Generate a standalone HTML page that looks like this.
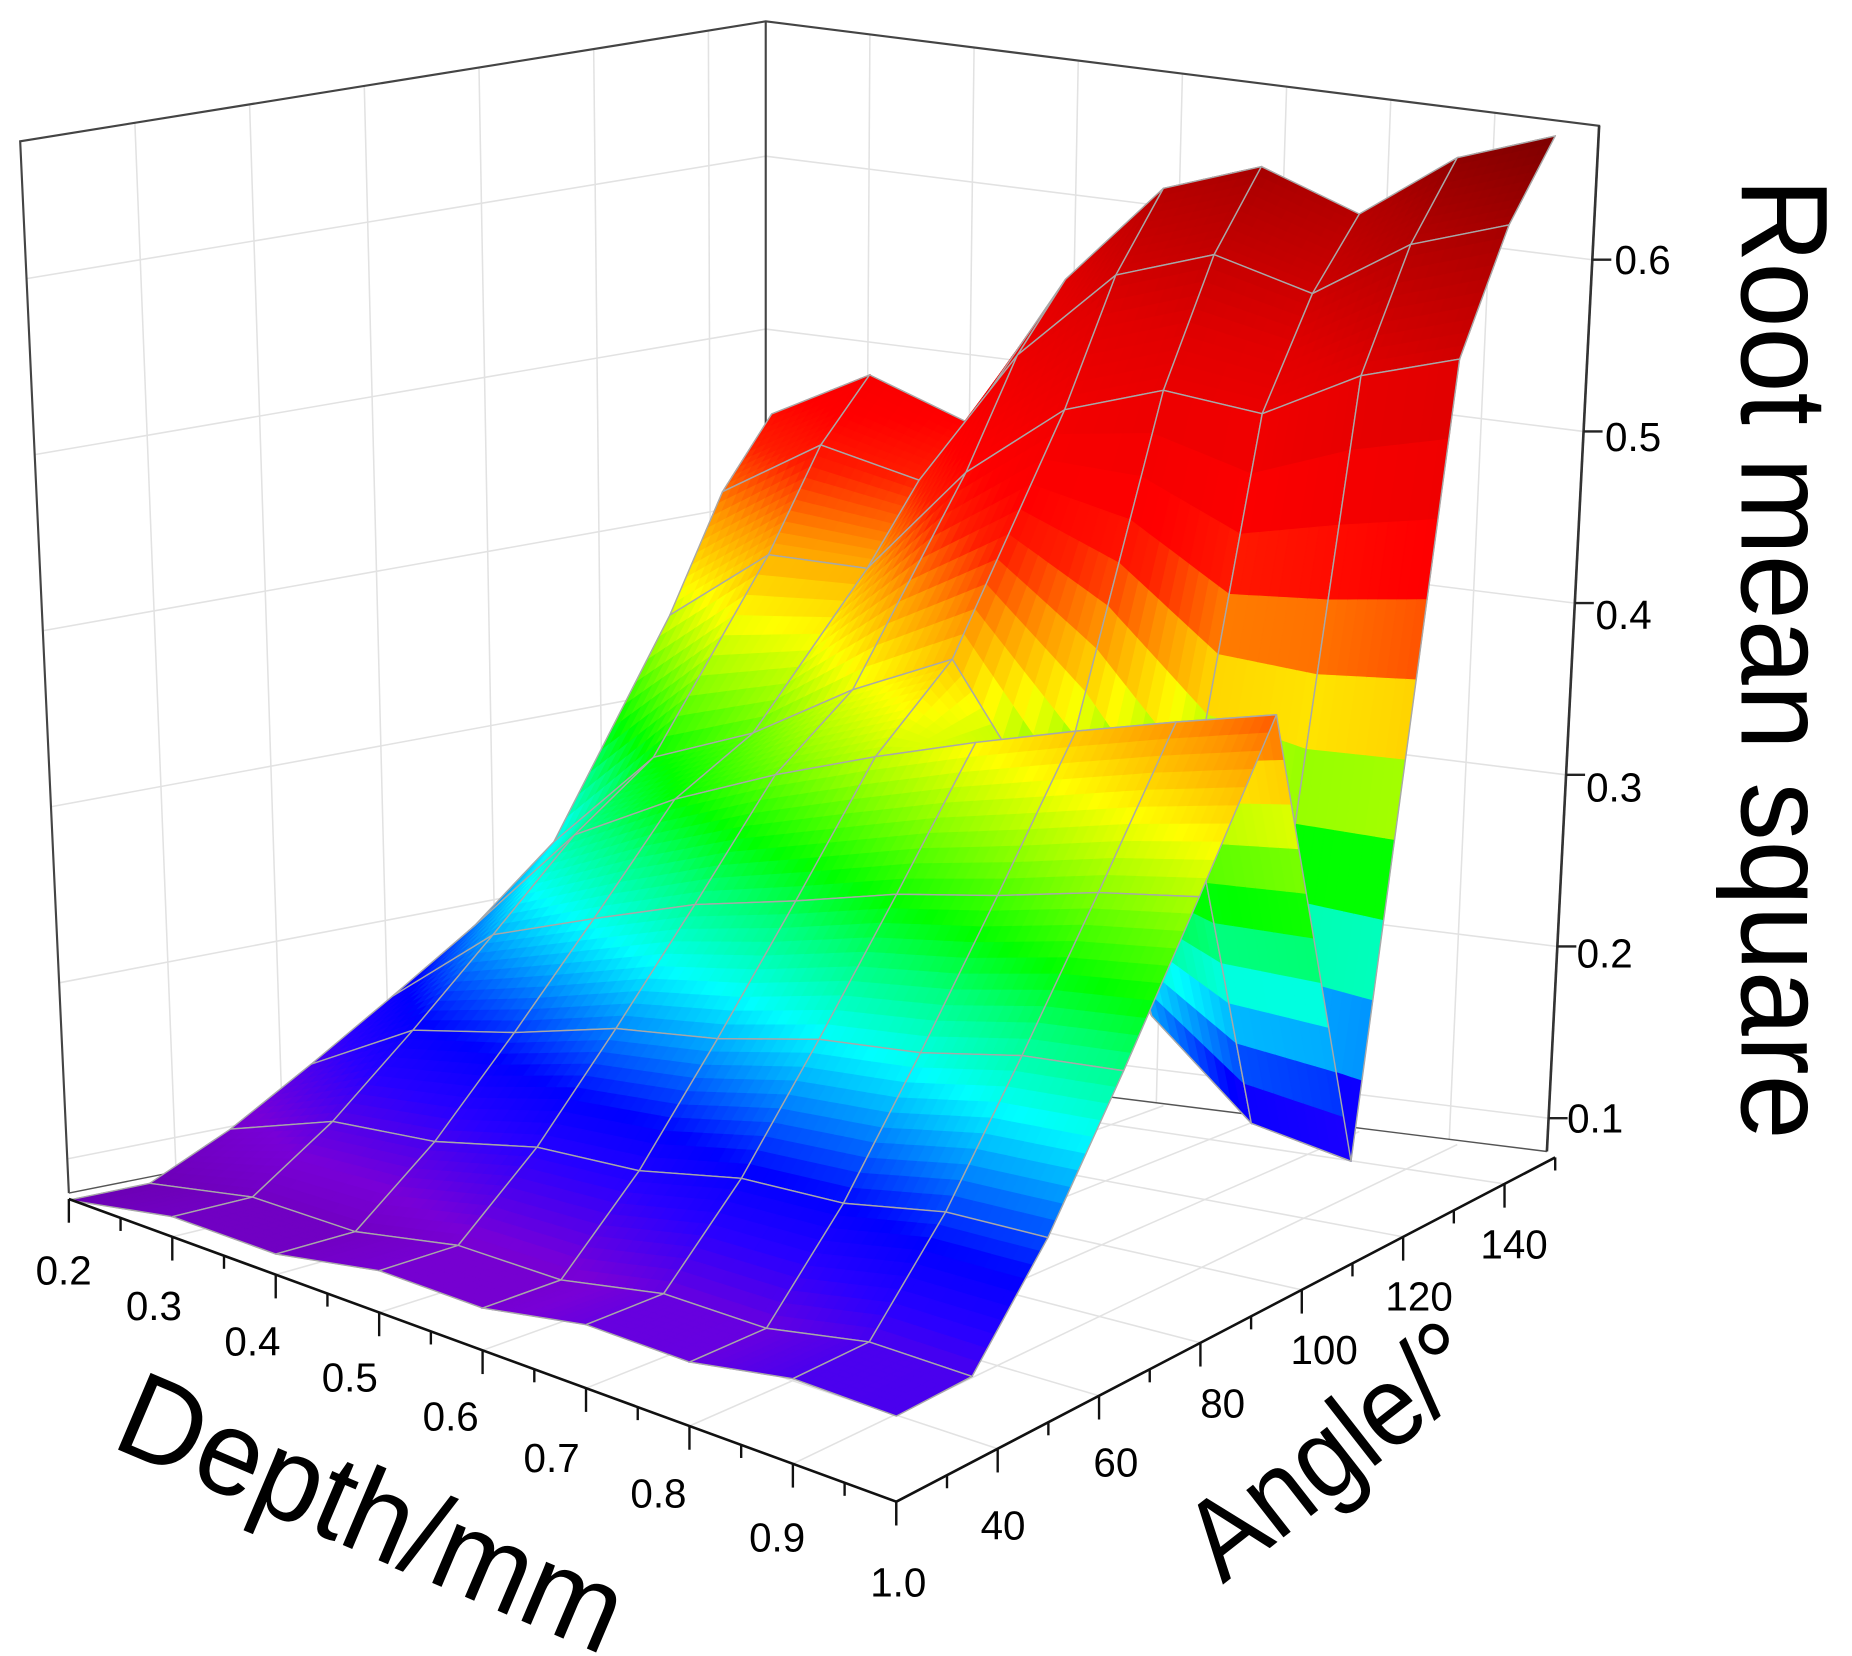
<!DOCTYPE html>
<html><head><meta charset="utf-8"><style>
html,body{margin:0;padding:0;background:#fff;}
svg{display:block;}
text{font-family:"Liberation Sans",Arial,sans-serif;fill:#000;}
</style></head><body>
<svg id="s" xmlns="http://www.w3.org/2000/svg" width="1852" height="1656" viewBox="0 0 1560 1395" preserveAspectRatio="none">
<g id="walls"></g>
<g id="surf"></g>
<g id="axes"></g>
<g font-size="34">
<text x="1360" y="231">0.6</text>
<text x="1352" y="380">0.5</text>
<text x="1344" y="530">0.4</text>
<text x="1336" y="675">0.3</text>
<text x="1328" y="815">0.2</text>
<text x="1320" y="954">0.1</text>
<text x="30" y="1082">0.2</text>
<text x="106" y="1112">0.3</text>
<text x="189" y="1142">0.4</text>
<text x="271" y="1172">0.5</text>
<text x="356" y="1205">0.6</text>
<text x="441" y="1240">0.7</text>
<text x="531" y="1270">0.8</text>
<text x="631" y="1307">0.9</text>
<text x="733" y="1345">1.0</text>
<text x="826" y="1297">40</text>
<text x="921" y="1244">60</text>
<text x="1011" y="1194">80</text>
<text x="1087" y="1149">100</text>
<text x="1167" y="1104">120</text>
<text x="1247" y="1060">140</text>
</g>
<text transform="translate(1467,150) rotate(90)" font-size="104" textLength="810" lengthAdjust="spacingAndGlyphs">Root mean square</text>
<text transform="translate(92,1218) rotate(23)" font-size="102" textLength="452" lengthAdjust="spacingAndGlyphs">Depth/mm</text>
<text transform="translate(1030,1335) rotate(-38)" font-size="96" textLength="285" lengthAdjust="spacingAndGlyphs">Angle/°</text>
</svg>
<script>
(function(){
var NS="http://www.w3.org/2000/svg";
function el(p,tag,at){var e=document.createElementNS(NS,tag);for(var k in at)e.setAttribute(k,at[k]);p.appendChild(e);return e;}
var P00=[58,1010],P10=[755,1265],P11=[1310,975],P01=[650,888];
function floor(d,a){return [(1-d)*(1-a)*P00[0]+d*(1-a)*P10[0]+d*a*P11[0]+(1-d)*a*P01[0],
(1-d)*(1-a)*P00[1]+d*(1-a)*P10[1]+d*a*P11[1]+(1-d)*a*P01[1]];}
function proj(d,a,z){var f=floor(d,a);return [f[0],f[1]-1460*(z-0.0806)];}
var stops=[[0.07,[105,0,170]],[0.11,[120,0,215]],[0.145,[40,0,255]],[0.17,[0,0,255]],[0.2,[0,130,255]],[0.23,[0,255,255]],[0.265,[0,255,120]],[0.29,[0,255,0]],[0.33,[150,255,0]],[0.36,[255,255,0]],[0.4,[255,150,0]],[0.435,[255,30,0]],[0.46,[255,0,0]],[0.55,[225,0,0]],[0.62,[175,0,0]],[0.69,[105,0,0]]];
function col(z){if(z<=stops[0][0])return"rgb("+stops[0][1]+")";for(var i=1;i<stops.length;i++){if(z<=stops[i][0]){var t=(z-stops[i-1][0])/(stops[i][0]-stops[i-1][0]);var a=stops[i-1][1],b=stops[i][1];return"rgb("+Math.round(a[0]+(b[0]-a[0])*t)+","+Math.round(a[1]+(b[1]-a[1])*t)+","+Math.round(a[2]+(b[2]-a[2])*t)+")";}}return"rgb(105,0,0)";}
var A=[0,.115,.23,.345,.46,.577,.69,.855,.93,1];
var back=[0.45,0.48,0.46,0.55,0.61,0.63,0.61,0.65,0.67];
var hh=[.15,.6,.85,1];
var trough={5:0.30,6:0.2,7:0.15,8:0.14};
var Z=[];
for(var i=0;i<9;i++){Z[i]=[];var d=i/8;var fr=0.08+0.05*d+(i%2?0.006:0);var rg=0.19+0.23*Math.pow(d,0.6);
for(var j=0;j<10;j++){var z;if(j<=5){var t=A[j]/0.577;var g=Math.max(0,(t-0.22)/0.78);g=Math.pow(g,1.1);z=fr+(rg-fr)*g;}
else{z=rg+(back[i]-rg)*hh[j-6];if(j==6&&trough[i]!==undefined)z=Math.min(z,trough[i]);}
Z[i][j]=z;}}
var W=document.getElementById("walls");
el(W,"polygon",{points:"17,119 645,18 645,888 58,1005",fill:"#fff"});
el(W,"polygon",{points:"645,18 1347,106 1303,970 645,888",fill:"#fff"});
var gc="#e2e2e2";
function lerp(p,q,t){return [p[0]+(q[0]-p[0])*t,p[1]+(q[1]-p[1])*t];}
function fz(z){return (z-0.0806)/0.5974;}
var LB=[58,1005],LT=[17,119],BB=[645,888],BT=[645,18],RB=[1303,970],RT=[1347,106];
var zs=[0.1,0.2,0.3,0.4,0.5,0.6];
zs.forEach(function(z){var f=fz(z);var a=lerp(LB,LT,f),b=lerp(BB,BT,f),c=lerp(RB,RT,f);
el(W,"polyline",{points:a+" "+b+" "+c,fill:"none",stroke:gc,"stroke-width":1.3});});
var angs=[40,60,80,100,120,140];
angs.forEach(function(v){var t=(v-20)/130;var b=lerp(LB,BB,t),tp=lerp(LT,BT,t);el(W,"line",{x1:b[0],y1:b[1],x2:tp[0],y2:tp[1],stroke:gc,"stroke-width":1.3});
var f0=floor(0,t),f1=floor(1,t);el(W,"line",{x1:f0[0],y1:f0[1],x2:f1[0],y2:f1[1],stroke:gc,"stroke-width":1.3});});
for(var k=1;k<8;k++){var t=k/8;var b=lerp(BB,RB,t),tp=lerp(BT,RT,t);el(W,"line",{x1:b[0],y1:b[1],x2:tp[0],y2:tp[1],stroke:gc,"stroke-width":1.3});
var f0=floor(t,0),f1=floor(t,1);el(W,"line",{x1:f0[0],y1:f0[1],x2:f1[0],y2:f1[1],stroke:gc,"stroke-width":1.3});}
var ec="#444";
el(W,"polyline",{points:"58,1005 17,119 645,18 1347,106 1303,970",fill:"none",stroke:ec,"stroke-width":1.8});
el(W,"line",{x1:645,y1:18,x2:645,y2:888,stroke:ec,"stroke-width":1.8});
el(W,"polyline",{points:"58,1005 645,888 1303,970",fill:"none",stroke:"#555","stroke-width":1.2});
var S=document.getElementById("surf");var cells=[];
for(var i=0;i<8;i++)for(var j=0;j<9;j++){cells.push([i,j,((A[j]+A[j+1])/2)+(1-(i+0.5)/8)]);}
cells.sort(function(p,q){return q[2]-p[2];});
var n=10;
function zat(i,j,u,v){return (1-u)*(1-v)*Z[i][j]+u*(1-v)*Z[i+1][j]+u*v*Z[i+1][j+1]+(1-u)*v*Z[i][j+1];}
function pt(i,j,u,v){var d=(i+u)/8,a=A[j]+(A[j+1]-A[j])*v;return proj(d,a,zat(i,j,u,v));}
function f(p){return p[0].toFixed(1)+","+p[1].toFixed(1);}
cells.forEach(function(c){var i=c[0],j=c[1];var subs=[];
for(var su=0;su<n;su++)for(var sv=0;sv<n;sv++)subs.push([su,sv,(sv+0.5)/n-(su+0.5)/n]);
subs.sort(function(p,q){return q[2]-p[2];});
var g=el(S,"g",{});
subs.forEach(function(s){var u0=s[0]/n,u1=(s[0]+1)/n,v0=s[1]/n,v1=(s[1]+1)/n;
var p1=pt(i,j,u0,v0),p2=pt(i,j,u1,v0),p3=pt(i,j,u1,v1),p4=pt(i,j,u0,v1);
var cl=col(zat(i,j,(u0+u1)/2,(v0+v1)/2));
el(g,"polygon",{points:f(p1)+" "+f(p2)+" "+f(p3)+" "+f(p4),fill:cl,stroke:cl,"stroke-width":0.8});});
var q=[proj(i/8,A[j],Z[i][j]),proj((i+1)/8,A[j],Z[i+1][j]),proj((i+1)/8,A[j+1],Z[i+1][j+1]),proj(i/8,A[j+1],Z[i][j+1])];
el(g,"polygon",{points:q.map(f).join(" "),fill:"none",stroke:"#a8a8a8","stroke-width":1.2,"stroke-linejoin":"round"});});
var X=document.getElementById("axes");
el(X,"line",{x1:58,y1:1010,x2:755,y2:1265,stroke:"#111","stroke-width":2.2});
el(X,"line",{x1:755,y1:1265,x2:1310,y2:975,stroke:"#111","stroke-width":2.2});
el(X,"line",{x1:1303,y1:970,x2:1347,y2:106,stroke:"#333","stroke-width":2.2});
for(var k=0;k<=16;k++){var t=k/16;var p=lerp([58,1010],[755,1265],t);var L=(k%2==0)?20:11;el(X,"line",{x1:p[0],y1:p[1],x2:p[0],y2:p[1]+L,stroke:"#111","stroke-width":2});}
for(var v=30;v<=150;v+=10){var t=(v-20)/130;var p=lerp([755,1265],[1310,975],t);var L=(v%20==0)?20:11;el(X,"line",{x1:p[0],y1:p[1],x2:p[0],y2:p[1]+L,stroke:"#111","stroke-width":2});}
el(X,"line",{x1:755,y1:1265,x2:755,y2:1285,stroke:"#111","stroke-width":2});
zs.forEach(function(z){var f2=fz(z);var p=lerp(RB,RT,f2);el(X,"line",{x1:p[0],y1:p[1],x2:p[0]+16,y2:p[1],stroke:"#222","stroke-width":2});});
})();
</script>
</body></html>
